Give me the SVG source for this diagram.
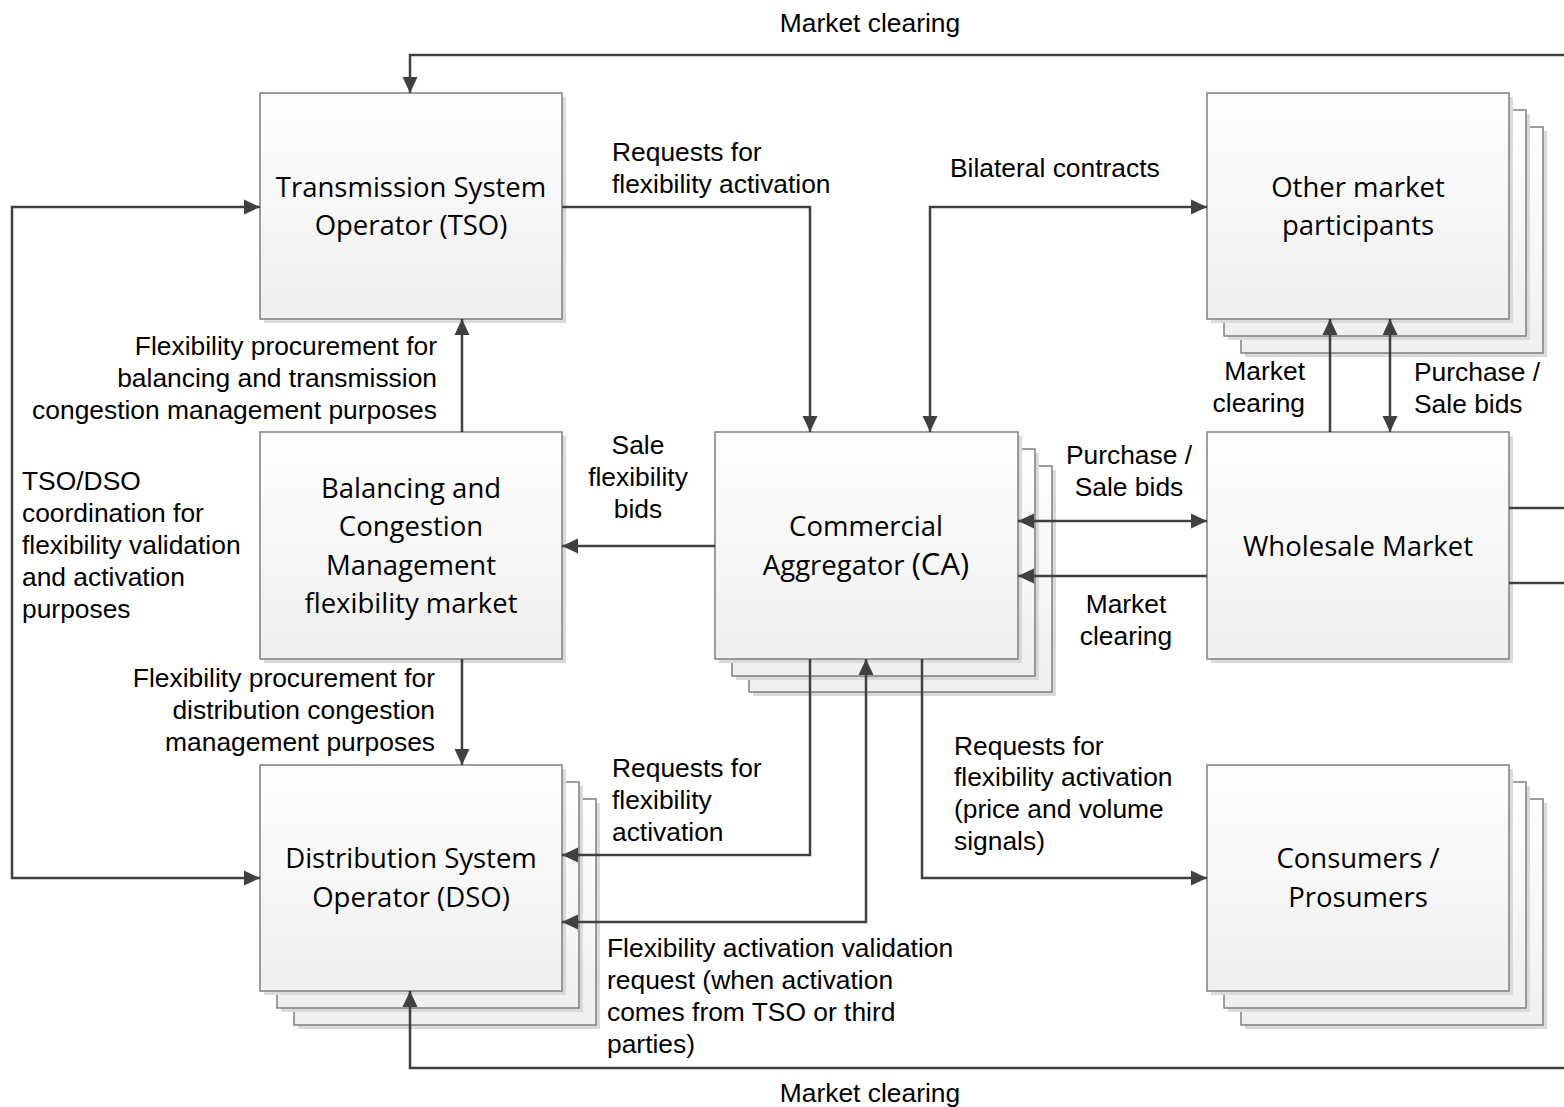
<svg xmlns="http://www.w3.org/2000/svg" width="1564" height="1107" viewBox="0 0 1564 1107">
<defs>
<linearGradient id="g" x1="0" y1="0" x2="0" y2="1">
<stop offset="0" stop-color="#ffffff"/>
<stop offset="1" stop-color="#efefef"/>
</linearGradient>
<marker id="ah" viewBox="0 0 16 16" refX="16" refY="8" markerWidth="16" markerHeight="16" markerUnits="userSpaceOnUse" orient="auto-start-reverse">
<path d="M0,0.5 L16,8 L0,15.5 z" fill="#404040"/>
</marker>
</defs>
<style>
.box{fill:url(#g);stroke:#7f7f7f;stroke-width:1.5}
.sh{fill:#dadada}
.bt{font-family:"Open Sans","Noto Sans",sans-serif;font-size:27.5px;fill:#000;text-anchor:middle}
.lb{font-family:"Liberation Sans",Arial,sans-serif;font-size:26.4px;fill:#000}
.c{fill:none;stroke:#404040;stroke-width:2.5}
</style>
<rect width="1564" height="1107" fill="#fff"/>

<g id="tso">
<rect class="sh" x="264" y="97" width="302" height="226"/>
<rect class="box" x="260" y="93" width="302" height="226"/>
<text class="bt" x="411" y="197">Transmission System</text>
<text class="bt" x="411" y="235">Operator (TSO)</text>
</g>

<g id="bcm">
<rect class="sh" x="264" y="436" width="302" height="227"/>
<rect class="box" x="260" y="432" width="302" height="227"/>
<text class="bt" x="411" y="498">Balancing and</text>
<text class="bt" x="411" y="536">Congestion</text>
<text class="bt" x="411" y="575">Management</text>
<text class="bt" x="411" y="613">flexibility market</text>
</g>

<g id="dso">
<rect class="sh" x="298" y="803" width="302" height="226"/>
<rect class="box" x="294" y="799" width="302" height="226"/>
<rect class="sh" x="281" y="786" width="302" height="226"/>
<rect class="box" x="277" y="782" width="302" height="226"/>
<rect class="sh" x="264" y="769" width="302" height="226"/>
<rect class="box" x="260" y="765" width="302" height="226"/>
<text class="bt" x="411" y="868">Distribution System</text>
<text class="bt" x="411" y="907">Operator (DSO)</text>
</g>

<g id="ca">
<rect class="sh" x="753" y="470" width="303" height="226"/>
<rect class="box" x="749" y="466" width="303" height="226"/>
<rect class="sh" x="736" y="453" width="303" height="227"/>
<rect class="box" x="732" y="449" width="303" height="227"/>
<rect class="sh" x="719" y="436" width="303" height="227"/>
<rect class="box" x="715" y="432" width="303" height="227"/>
<text class="bt" x="866" y="536">Commercial</text>
<text class="bt" x="866" y="575">Aggregator <tspan font-size="31">(CA)</tspan></text>
</g>

<g id="omp">
<rect class="sh" x="1245" y="131" width="302" height="226"/>
<rect class="box" x="1241" y="127" width="302" height="226"/>
<rect class="sh" x="1228" y="114" width="302" height="226"/>
<rect class="box" x="1224" y="110" width="302" height="226"/>
<rect class="sh" x="1211" y="97" width="302" height="226"/>
<rect class="box" x="1207" y="93" width="302" height="226"/>
<text class="bt" x="1358" y="197">Other market</text>
<text class="bt" x="1358" y="235">participants</text>
</g>

<g id="wm">
<rect class="sh" x="1211" y="436" width="302" height="227"/>
<rect class="box" x="1207" y="432" width="302" height="227"/>
<text class="bt" x="1358" y="556">Wholesale Market</text>
</g>

<g id="cons">
<rect class="sh" x="1245" y="803" width="302" height="226"/>
<rect class="box" x="1241" y="799" width="302" height="226"/>
<rect class="sh" x="1228" y="786" width="302" height="226"/>
<rect class="box" x="1224" y="782" width="302" height="226"/>
<rect class="sh" x="1211" y="769" width="302" height="226"/>
<rect class="box" x="1207" y="765" width="302" height="226"/>
<text class="bt" x="1358" y="868">Consumers /</text>
<text class="bt" x="1358" y="907">Prosumers</text>
</g>

<g id="connectors">
<path class="c" d="M1564,55 H410 V93" marker-end="url(#ah)"/>
<path class="c" d="M260,207 H12 V878 H260" marker-start="url(#ah)" marker-end="url(#ah)"/>
<path class="c" d="M562,207 H810 V432" marker-end="url(#ah)"/>
<path class="c" d="M930,432 V207 H1207" marker-start="url(#ah)" marker-end="url(#ah)"/>
<path class="c" d="M462,432 V319" marker-end="url(#ah)"/>
<path class="c" d="M715,546 H562" marker-end="url(#ah)"/>
<path class="c" d="M462,659 V765" marker-end="url(#ah)"/>
<path class="c" d="M810,659 V855 H562" marker-end="url(#ah)"/>
<path class="c" d="M562,922 H866 V659" marker-start="url(#ah)" marker-end="url(#ah)"/>
<path class="c" d="M922,659 V878 H1207" marker-end="url(#ah)"/>
<path class="c" d="M1018,521 H1207" marker-start="url(#ah)" marker-end="url(#ah)"/>
<path class="c" d="M1207,576 H1018" marker-end="url(#ah)"/>
<path class="c" d="M1330,432 V319" marker-end="url(#ah)"/>
<path class="c" d="M1390,432 V319" marker-start="url(#ah)" marker-end="url(#ah)"/>
<path class="c" d="M1509,508 H1564"/>
<path class="c" d="M1509,583 H1564"/>
<path class="c" d="M1564,1068 H410 V991" marker-end="url(#ah)"/>
</g>

<g id="labels">
<text class="lb" x="870" y="32" text-anchor="middle">Market clearing</text>
<text class="lb" x="612" y="161">Requests for</text>
<text class="lb" x="612" y="193">flexibility activation</text>
<text class="lb" x="950" y="177">Bilateral contracts</text>
<text class="lb" x="437" y="355" text-anchor="end">Flexibility procurement for</text>
<text class="lb" x="437" y="387" text-anchor="end">balancing and transmission</text>
<text class="lb" x="437" y="419" text-anchor="end">congestion management purposes</text>
<text class="lb" x="638" y="454" text-anchor="middle">Sale</text>
<text class="lb" x="638" y="486" text-anchor="middle">flexibility</text>
<text class="lb" x="638" y="518" text-anchor="middle">bids</text>
<text class="lb" x="22" y="490">TSO/DSO</text>
<text class="lb" x="22" y="522">coordination for</text>
<text class="lb" x="22" y="554">flexibility validation</text>
<text class="lb" x="22" y="586">and activation</text>
<text class="lb" x="22" y="618">purposes</text>
<text class="lb" x="435" y="687" text-anchor="end">Flexibility procurement for</text>
<text class="lb" x="435" y="719" text-anchor="end">distribution congestion</text>
<text class="lb" x="435" y="751" text-anchor="end">management purposes</text>
<text class="lb" x="612" y="777">Requests for</text>
<text class="lb" x="612" y="809">flexibility</text>
<text class="lb" x="612" y="841">activation</text>
<text class="lb" x="607" y="957">Flexibility activation validation</text>
<text class="lb" x="607" y="989">request (when activation</text>
<text class="lb" x="607" y="1021">comes from TSO or third</text>
<text class="lb" x="607" y="1053">parties)</text>
<text class="lb" x="954" y="755">Requests for</text>
<text class="lb" x="954" y="786">flexibility activation</text>
<text class="lb" x="954" y="818">(price and volume</text>
<text class="lb" x="954" y="850">signals)</text>
<text class="lb" x="1129" y="464" text-anchor="middle">Purchase /</text>
<text class="lb" x="1129" y="496" text-anchor="middle">Sale bids</text>
<text class="lb" x="1126" y="613" text-anchor="middle">Market</text>
<text class="lb" x="1126" y="645" text-anchor="middle">clearing</text>
<text class="lb" x="1305" y="380" text-anchor="end">Market</text>
<text class="lb" x="1305" y="412" text-anchor="end">clearing</text>
<text class="lb" x="1414" y="381">Purchase /</text>
<text class="lb" x="1414" y="413">Sale bids</text>
<text class="lb" x="870" y="1102" text-anchor="middle">Market clearing</text>
</g>
</svg>
